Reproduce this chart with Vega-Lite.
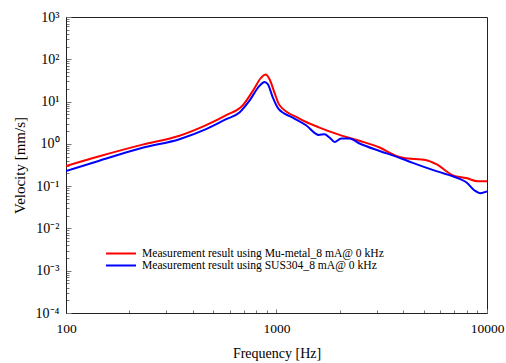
{
  "$schema": "https://vega.github.io/schema/vega-lite/v6.json",
  "width": 421,
  "height": 296,
  "autosize": "none",
  "padding": {"left": 66, "top": 17, "right": 19, "bottom": 50},
  "background": "white",
  "config": {
    "view": {"stroke": "#222", "strokeWidth": 1},
    "font": "Liberation Serif"
  },
  "data": {
    "values": [
      {"f": 100, "v": 0.30, "s": "Measurement result using Mu-metal_8 mA@ 0 kHz"},
      {"f": 144, "v": 0.51, "s": "Measurement result using Mu-metal_8 mA@ 0 kHz"},
      {"f": 231, "v": 0.96, "s": "Measurement result using Mu-metal_8 mA@ 0 kHz"},
      {"f": 346, "v": 1.55, "s": "Measurement result using Mu-metal_8 mA@ 0 kHz"},
      {"f": 463, "v": 2.76, "s": "Measurement result using Mu-metal_8 mA@ 0 kHz"},
      {"f": 577, "v": 4.75, "s": "Measurement result using Mu-metal_8 mA@ 0 kHz"},
      {"f": 692, "v": 8.2, "s": "Measurement result using Mu-metal_8 mA@ 0 kHz"},
      {"f": 772, "v": 17.9, "s": "Measurement result using Mu-metal_8 mA@ 0 kHz"},
      {"f": 846, "v": 36.9, "s": "Measurement result using Mu-metal_8 mA@ 0 kHz"},
      {"f": 887, "v": 43.5, "s": "Measurement result using Mu-metal_8 mA@ 0 kHz"},
      {"f": 927, "v": 33.7, "s": "Measurement result using Mu-metal_8 mA@ 0 kHz"},
      {"f": 978, "v": 16.3, "s": "Measurement result using Mu-metal_8 mA@ 0 kHz"},
      {"f": 1032, "v": 8.3, "s": "Measurement result using Mu-metal_8 mA@ 0 kHz"},
      {"f": 1285, "v": 3.97, "s": "Measurement result using Mu-metal_8 mA@ 0 kHz"},
      {"f": 1600, "v": 2.43, "s": "Measurement result using Mu-metal_8 mA@ 0 kHz"},
      {"f": 1994, "v": 1.63, "s": "Measurement result using Mu-metal_8 mA@ 0 kHz"},
      {"f": 2482, "v": 1.18, "s": "Measurement result using Mu-metal_8 mA@ 0 kHz"},
      {"f": 3090, "v": 0.82, "s": "Measurement result using Mu-metal_8 mA@ 0 kHz"},
      {"f": 3708, "v": 0.52, "s": "Measurement result using Mu-metal_8 mA@ 0 kHz"},
      {"f": 3990, "v": 0.47, "s": "Measurement result using Mu-metal_8 mA@ 0 kHz"},
      {"f": 5150, "v": 0.41, "s": "Measurement result using Mu-metal_8 mA@ 0 kHz"},
      {"f": 5745, "v": 0.33, "s": "Measurement result using Mu-metal_8 mA@ 0 kHz"},
      {"f": 6890, "v": 0.18, "s": "Measurement result using Mu-metal_8 mA@ 0 kHz"},
      {"f": 7970, "v": 0.155, "s": "Measurement result using Mu-metal_8 mA@ 0 kHz"},
      {"f": 9060, "v": 0.13, "s": "Measurement result using Mu-metal_8 mA@ 0 kHz"},
      {"f": 10000, "v": 0.13, "s": "Measurement result using Mu-metal_8 mA@ 0 kHz"},
      {"f": 100, "v": 0.226, "s": "Measurement result using SUS304_8 mA@ 0 kHz"},
      {"f": 144, "v": 0.40, "s": "Measurement result using SUS304_8 mA@ 0 kHz"},
      {"f": 231, "v": 0.81, "s": "Measurement result using SUS304_8 mA@ 0 kHz"},
      {"f": 346, "v": 1.29, "s": "Measurement result using SUS304_8 mA@ 0 kHz"},
      {"f": 463, "v": 2.22, "s": "Measurement result using SUS304_8 mA@ 0 kHz"},
      {"f": 577, "v": 3.83, "s": "Measurement result using SUS304_8 mA@ 0 kHz"},
      {"f": 667, "v": 5.5, "s": "Measurement result using SUS304_8 mA@ 0 kHz"},
      {"f": 743, "v": 10.4, "s": "Measurement result using SUS304_8 mA@ 0 kHz"},
      {"f": 830, "v": 23.5, "s": "Measurement result using SUS304_8 mA@ 0 kHz"},
      {"f": 877, "v": 29.2, "s": "Measurement result using SUS304_8 mA@ 0 kHz"},
      {"f": 910, "v": 25.7, "s": "Measurement result using SUS304_8 mA@ 0 kHz"},
      {"f": 961, "v": 12.4, "s": "Measurement result using SUS304_8 mA@ 0 kHz"},
      {"f": 1025, "v": 6.6, "s": "Measurement result using SUS304_8 mA@ 0 kHz"},
      {"f": 1194, "v": 4.19, "s": "Measurement result using SUS304_8 mA@ 0 kHz"},
      {"f": 1382, "v": 2.76, "s": "Measurement result using SUS304_8 mA@ 0 kHz"},
      {"f": 1588, "v": 1.63, "s": "Measurement result using SUS304_8 mA@ 0 kHz"},
      {"f": 1690, "v": 1.69, "s": "Measurement result using SUS304_8 mA@ 0 kHz"},
      {"f": 1786, "v": 1.41, "s": "Measurement result using SUS304_8 mA@ 0 kHz"},
      {"f": 1887, "v": 1.11, "s": "Measurement result using SUS304_8 mA@ 0 kHz"},
      {"f": 2029, "v": 1.34, "s": "Measurement result using SUS304_8 mA@ 0 kHz"},
      {"f": 2223, "v": 1.34, "s": "Measurement result using SUS304_8 mA@ 0 kHz"},
      {"f": 2482, "v": 1.02, "s": "Measurement result using SUS304_8 mA@ 0 kHz"},
      {"f": 3090, "v": 0.68, "s": "Measurement result using SUS304_8 mA@ 0 kHz"},
      {"f": 3708, "v": 0.50, "s": "Measurement result using SUS304_8 mA@ 0 kHz"},
      {"f": 4440, "v": 0.356, "s": "Measurement result using SUS304_8 mA@ 0 kHz"},
      {"f": 5745, "v": 0.226, "s": "Measurement result using SUS304_8 mA@ 0 kHz"},
      {"f": 7410, "v": 0.149, "s": "Measurement result using SUS304_8 mA@ 0 kHz"},
      {"f": 7970, "v": 0.124, "s": "Measurement result using SUS304_8 mA@ 0 kHz"},
      {"f": 8730, "v": 0.079, "s": "Measurement result using SUS304_8 mA@ 0 kHz"},
      {"f": 9270, "v": 0.068, "s": "Measurement result using SUS304_8 mA@ 0 kHz"},
      {"f": 10000, "v": 0.075, "s": "Measurement result using SUS304_8 mA@ 0 kHz"}
    ]
  },
  "mark": {"type": "line", "strokeWidth": 2, "interpolate": "monotone", "clip": true},
  "encoding": {
    "x": {
      "field": "f",
      "type": "quantitative",
      "scale": {"type": "log", "domain": [100, 10000], "nice": false},
      "axis": {
        "title": "Frequency [Hz]",
        "titleFont": "Liberation Serif",
        "titleFontSize": 14,
        "titleFontWeight": "normal",
        "titleColor": "#000",
        "titlePadding": 11,
        "values": [100, 200, 300, 400, 500, 600, 700, 800, 900, 1000, 2000, 3000, 4000, 5000, 6000, 7000, 8000, 9000, 10000],
        "labelExpr": "datum.value == 100 || datum.value == 1000 || datum.value == 10000 ? datum.label : ''",
        "format": "d",
        "labelFont": "Liberation Serif",
        "labelFontSize": 13.5,
        "labelColor": "#000",
        "labelPadding": 12,
        "labelFlush": false,
        "labelOverlap": false,
        "grid": false,
        "domainColor": "#222",
        "tickColor": "#777",
        "tickSize": {"condition": {"test": "datum.value == 100 || datum.value == 1000 || datum.value == 10000", "value": -4}, "value": -3}
      }
    },
    "y": {
      "field": "v",
      "type": "quantitative",
      "scale": {"type": "log", "domain": [0.0001, 1000], "nice": false},
      "axis": {
        "title": "Velocity [mm/s]",
        "titleFont": "Liberation Serif",
        "titleFontSize": 15,
        "titleFontWeight": "normal",
        "titleColor": "#000",
        "titlePadding": 8,
        "values": [0.0001, 0.0002, 0.0003, 0.0004, 0.0005, 0.0006, 0.0007, 0.0008, 0.0009, 0.001, 0.002, 0.003, 0.004, 0.005, 0.006, 0.007, 0.008, 0.009, 0.01, 0.02, 0.03, 0.04, 0.05, 0.06, 0.07, 0.08, 0.09, 0.1, 0.2, 0.3, 0.4, 0.5, 0.6, 0.7, 0.8, 0.9, 1, 2, 3, 4, 5, 6, 7, 8, 9, 10, 20, 30, 40, 50, 60, 70, 80, 90, 100, 200, 300, 400, 500, 600, 700, 800, 900, 1000],
        "labelExpr": "datum.value == 1000 ? '10³' : datum.value == 100 ? '10²' : datum.value == 10 ? '10¹' : datum.value == 1 ? '10⁰' : datum.value == 0.1 ? '10⁻¹' : datum.value == 0.01 ? '10⁻²' : datum.value == 0.001 ? '10⁻³' : datum.value == 0.0001 ? '10⁻⁴' : ''",
        "labelFont": "Liberation Serif",
        "labelFontSize": 14,
        "labelColor": "#000",
        "labelPadding": 12,
        "labelFlush": false,
        "labelOverlap": false,
        "grid": false,
        "domainColor": "#222",
        "tickColor": "#777",
        "tickSize": {"condition": {"test": "datum.value == 1000 || datum.value == 100 || datum.value == 10 || datum.value == 1 || datum.value == 0.1 || datum.value == 0.01 || datum.value == 0.001 || datum.value == 0.0001", "value": -5}, "value": -3}
      }
    },
    "color": {
      "field": "s",
      "type": "nominal",
      "scale": {
        "domain": ["Measurement result using Mu-metal_8 mA@ 0 kHz", "Measurement result using SUS304_8 mA@ 0 kHz"],
        "range": ["#ff0000", "#0000ff"]
      },
      "legend": {
        "title": null,
        "orient": "none",
        "legendX": 49,
        "legendY": 230.5,
        "padding": 0,
        "symbolType": "M-3,0H3",
        "symbolSize": 100,
        "symbolStrokeWidth": 2,
        "symbolFillColor": "transparent",
        "labelFont": "Liberation Serif",
        "labelFontSize": 11.6,
        "labelColor": "#000",
        "labelOffset": 15,
        "labelLimit": 400,
        "rowPadding": -4.5
      }
    }
  }
}
